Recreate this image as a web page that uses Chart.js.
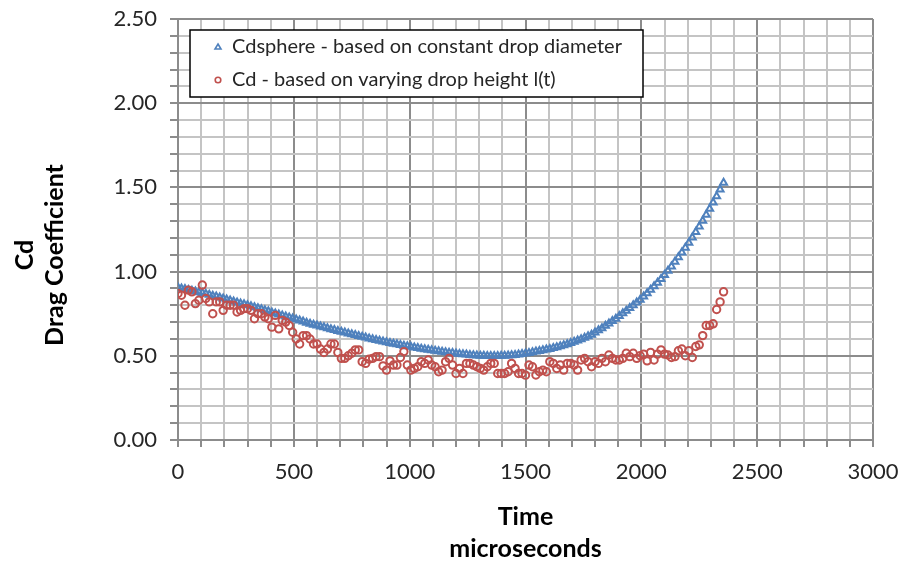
<!DOCTYPE html>
<html>
<head>
<meta charset="utf-8">
<script src="https://cdn.jsdelivr.net/npm/chart.js@4.4.1/dist/chart.umd.min.js"></script>
<style>
  html, body { margin: 0; padding: 0; background: #ffffff; }
  #wrap { position: relative; width: 903px; height: 561px; }
</style>
</head>
<body>
<div id="wrap"><canvas id="c" width="903" height="561"></canvas></div>
<script>
// ---- data ----
const timeStepUs = 15; // sampling interval of both series, microseconds
const cdSphere = [
  0.905,0.900,0.896,0.891,0.887,0.882,0.878,0.873,0.868,0.863,
  0.857,0.852,0.846,0.841,0.835,0.829,0.823,0.817,0.811,0.806,
  0.800,0.794,0.788,0.782,0.776,0.770,0.764,0.757,0.751,0.745,
  0.739,0.733,0.727,0.721,0.715,0.709,0.703,0.697,0.691,0.685,
  0.680,0.674,0.669,0.664,0.658,0.653,0.648,0.643,0.638,0.633,
  0.628,0.623,0.618,0.613,0.608,0.603,0.598,0.594,0.589,0.585,
  0.580,0.576,0.572,0.568,0.564,0.560,0.557,0.553,0.549,0.546,
  0.542,0.539,0.536,0.533,0.530,0.527,0.524,0.521,0.518,0.516,
  0.513,0.511,0.509,0.507,0.505,0.503,0.502,0.501,0.500,0.499,
  0.499,0.499,0.499,0.500,0.501,0.502,0.503,0.505,0.508,0.511,
  0.514,0.517,0.521,0.525,0.529,0.533,0.537,0.541,0.546,0.551,
  0.556,0.562,0.569,0.576,0.583,0.591,0.599,0.607,0.616,0.625,
  0.638,0.651,0.664,0.678,0.692,0.706,0.720,0.736,0.752,0.768,
  0.784,0.800,0.816,0.833,0.852,0.872,0.892,0.913,0.934,0.956,
  0.980,1.005,1.031,1.058,1.085,1.113,1.142,1.172,1.203,1.235,
  1.268,1.302,1.337,1.373,1.410,1.448,1.488,1.528
];
const cdHeight = [
  0.87,0.86,0.80,0.89,0.88,0.81,0.83,0.92,0.84,0.82,
  0.75,0.82,0.82,0.77,0.80,0.80,0.80,0.76,0.77,0.78,
  0.78,0.77,0.72,0.75,0.75,0.73,0.72,0.67,0.74,0.66,
  0.71,0.70,0.68,0.64,0.60,0.57,0.62,0.62,0.60,0.57,
  0.57,0.54,0.52,0.54,0.57,0.57,0.52,0.485,0.485,0.50,
  0.515,0.535,0.535,0.465,0.455,0.48,0.485,0.495,0.495,0.44,
  0.415,0.47,0.445,0.445,0.49,0.525,0.445,0.415,0.425,0.435,
  0.465,0.455,0.475,0.445,0.435,0.405,0.415,0.465,0.485,0.445,
  0.395,0.425,0.395,0.455,0.455,0.445,0.435,0.425,0.415,0.435,
  0.455,0.455,0.395,0.395,0.395,0.405,0.455,0.425,0.395,0.395,
  0.385,0.445,0.435,0.386,0.405,0.415,0.405,0.465,0.455,0.425,
  0.445,0.415,0.455,0.455,0.445,0.415,0.475,0.485,0.465,0.435,
  0.465,0.455,0.485,0.465,0.505,0.485,0.475,0.475,0.485,0.515,
  0.495,0.515,0.485,0.50,0.51,0.47,0.52,0.475,0.51,0.535,
  0.51,0.505,0.49,0.495,0.53,0.54,0.50,0.53,0.49,0.555,
  0.565,0.62,0.68,0.68,0.69,0.775,0.82,0.88
];
const seriesNames = ['Cdsphere - based on constant drop diameter', 'Cd - based on varying drop height l(t)'];
const xTickLabels = ['0','500','1000','1500','2000','2500','3000'];
const yTickLabels = ['0.00','0.50','1.00','1.50','2.00','2.50'];
const xTitleLines = ['Time', 'microseconds'];
const yTitleLines = ['Cd', 'Drag Coefficient'];

// ---- build chart ----
const timeUs = cdSphere.map((_, i) => i * timeStepUs);
const toPoints = arr => arr.map((v, i) => ({ x: timeUs[i], y: v }));

const BLUE = '#4F81BD', RED = '#C0504D';
const MAJOR = '#8c8c8c', MINOR = '#c4c4c4';
const FONT = 'Lato, "Open Sans", sans-serif';

const overlay = {
  id: 'overlay',
  afterDraw(chart) {
    const ctx = chart.ctx;
    const ca = chart.chartArea;
    ctx.save();
    // axis titles
    ctx.fillStyle = '#000000';
    ctx.font = 'bold 25px ' + FONT;
    ctx.textAlign = 'center';
    ctx.textBaseline = 'middle';
    const cx = (ca.left + ca.right) / 2;
    ctx.fillText(xTitleLines[0], cx, 517);
    ctx.fillText(xTitleLines[1], cx, 549);
    ctx.save();
    ctx.translate(25, 255);
    ctx.rotate(-Math.PI / 2);
    ctx.fillText(yTitleLines[0], 0, 0);
    ctx.restore();
    ctx.save();
    ctx.translate(55, 255);
    ctx.rotate(-Math.PI / 2);
    ctx.fillText(yTitleLines[1], 0, 0);
    ctx.restore();

    // legend box
    const bx = 190, by = 30, bw = 453, bh = 67;
    ctx.fillStyle = '#ffffff';
    ctx.fillRect(bx, by, bw, bh);
    ctx.strokeStyle = '#000000';
    ctx.lineWidth = 1.5;
    ctx.strokeRect(bx, by, bw, bh);
    ctx.font = '20px ' + FONT;
    ctx.textAlign = 'left';
    const rows = [47, 80];
    ctx.strokeStyle = BLUE;
    ctx.lineWidth = 1.6;
    ctx.beginPath();
    ctx.moveTo(218, rows[0] - 3);
    ctx.lineTo(221, rows[0] + 2);
    ctx.lineTo(215, rows[0] + 2);
    ctx.closePath();
    ctx.stroke();
    ctx.strokeStyle = RED;
    ctx.beginPath();
    ctx.arc(218, rows[1], 2.8, 0, Math.PI * 2);
    ctx.stroke();
    ctx.fillStyle = '#262626';
    ctx.fillText(seriesNames[0], 232, rows[0]);
    ctx.fillText(seriesNames[1], 232, rows[1]);
    ctx.restore();
  }
};

new Chart(document.getElementById('c'), {
  type: 'scatter',
  data: {
    datasets: [
      {
        label: seriesNames[0],
        data: toPoints(cdSphere),
        pointStyle: 'triangle',
        pointRadius: 4,
        borderColor: BLUE,
        backgroundColor: 'rgba(255,255,255,0)',
        pointBorderWidth: 2,
        order: 2
      },
      {
        label: seriesNames[1],
        data: toPoints(cdHeight),
        pointStyle: 'circle',
        pointRadius: 3.7,
        borderColor: RED,
        backgroundColor: 'rgba(255,255,255,0)',
        pointBorderWidth: 2,
        order: 1
      }
    ]
  },
  options: {
    responsive: false,
    animation: false,
    devicePixelRatio: 1,
    layout: { padding: { left: 0, right: 30, top: 19, bottom: 0 } },
    plugins: { legend: { display: false }, tooltip: { enabled: false } },
    scales: {
      x: {
        type: 'linear',
        min: 0, max: 3000,
        afterFit(scale) { scale.height = 121; scale.paddingLeft = 0; scale.paddingRight = 0; },
        afterBuildTicks(scale) {
          const t = [];
          for (let v = 0; v <= 3000; v += 100) t.push({ value: v });
          scale.ticks = t;
        },
        ticks: {
          autoSkip: false,
          maxRotation: 0,
          padding: 12,
          color: '#262626',
          font: { family: FONT, size: 22 },
          callback(v) {
            return v % 500 === 0 ? xTickLabels[v / 500] : '';
          }
        },
        grid: {
          color: ctx => (ctx.tick && ctx.tick.value % 500 === 0) ? MAJOR : MINOR,
          lineWidth: 2,
          tickColor: MAJOR,
          tickLength: 7
        },
        border: { color: MAJOR, width: 2 }
      },
      y: {
        type: 'linear',
        min: 0, max: 2.5,
        afterFit(scale) { scale.width = 178; scale.paddingTop = 0; scale.paddingBottom = 0; },
        afterBuildTicks(scale) {
          const t = [];
          for (let k = 0; k <= 25; k++) t.push({ value: k / 10 });
          scale.ticks = t;
        },
        ticks: {
          autoSkip: false,
          padding: 13,
          color: '#262626',
          font: { family: FONT, size: 22 },
          callback(v) {
            const k = Math.round(v * 10);
            return k % 5 === 0 ? yTickLabels[k / 5] : '';
          }
        },
        grid: {
          color: ctx => (ctx.tick && Math.round(ctx.tick.value * 10) % 5 === 0) ? MAJOR : MINOR,
          lineWidth: 2,
          tickColor: MAJOR,
          tickLength: 8
        },
        border: { color: MAJOR, width: 2 }
      }
    }
  },
  plugins: [overlay]
});
</script>
</body>
</html>
